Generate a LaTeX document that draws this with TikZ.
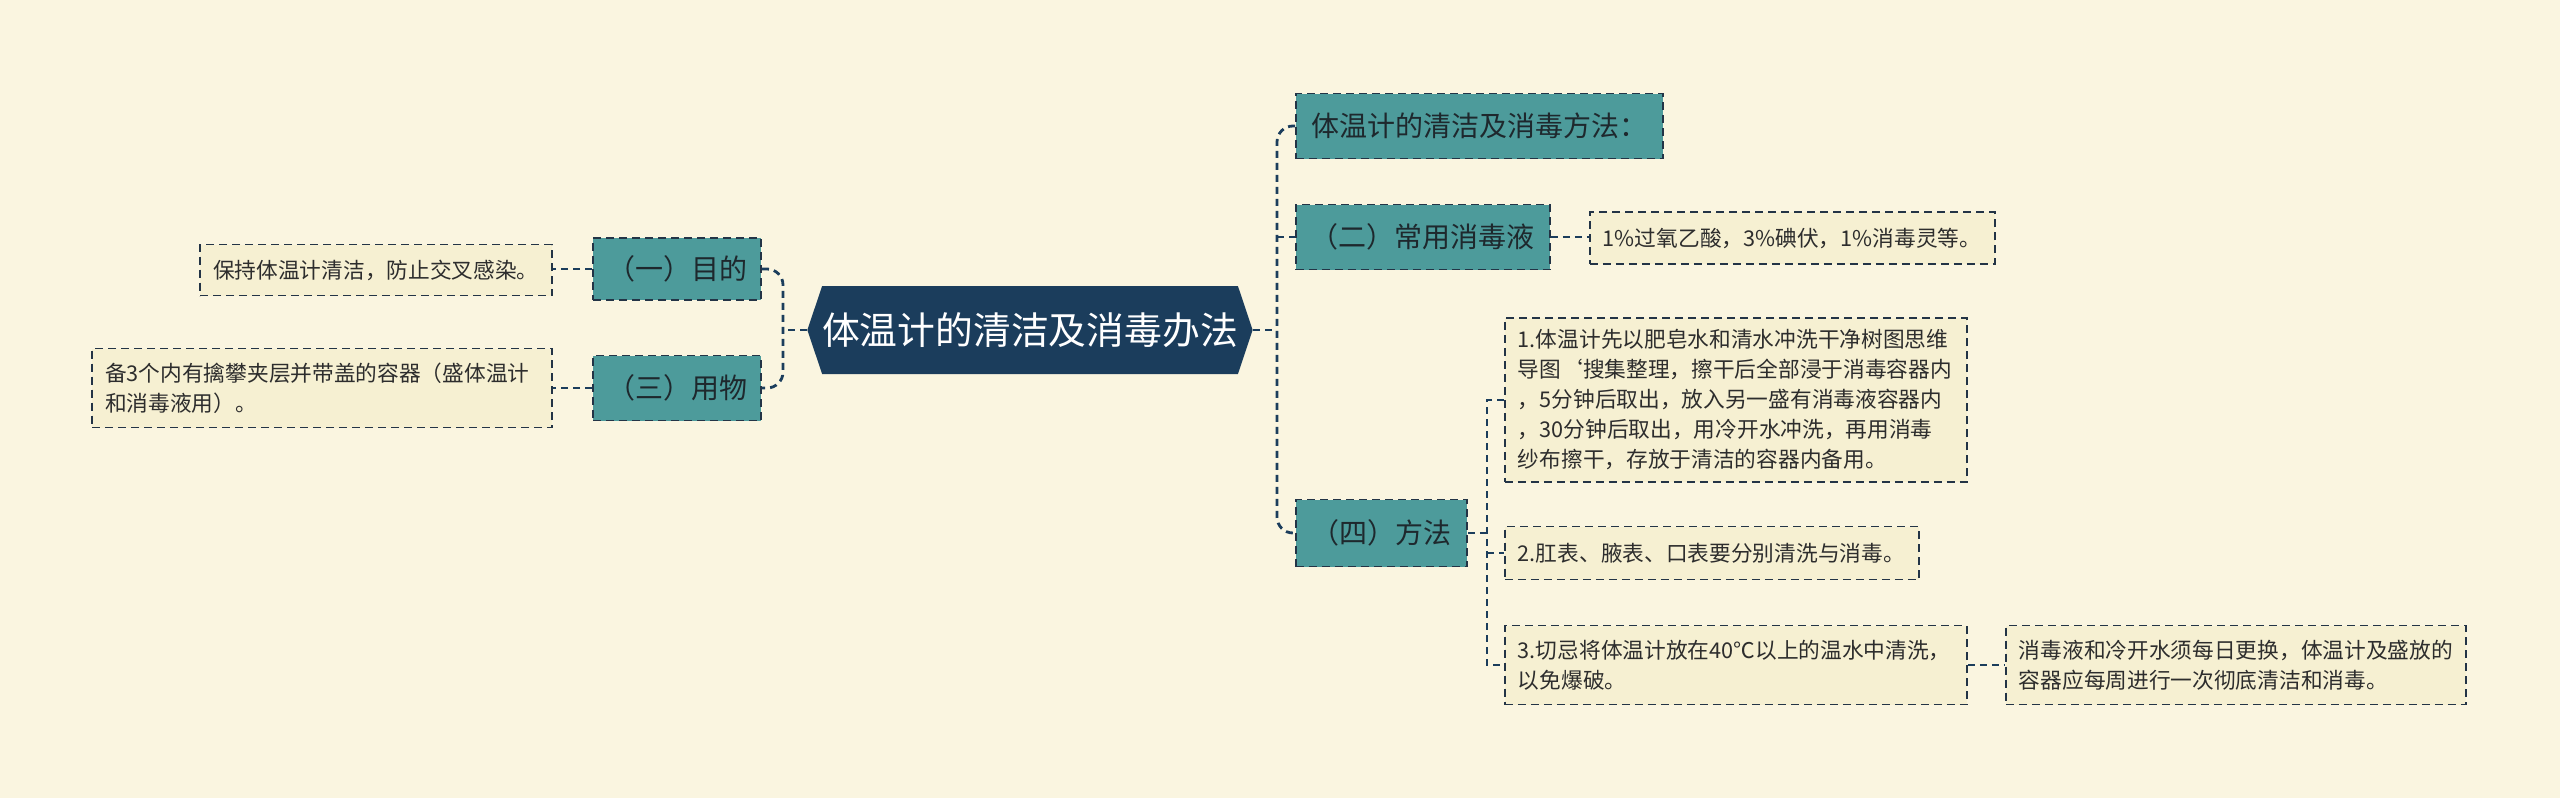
\documentclass[tikz,border=0pt]{standalone}
\usepackage{fontspec}
\setmainfont{Noto Sans CJK SC}
\usetikzlibrary{shapes.symbols}
\definecolor{bgc}{RGB}{250,245,224}
\definecolor{navy}{RGB}{27,61,92}
\definecolor{tealc}{RGB}{77,155,155}
\definecolor{edgec}{RGB}{35,52,70}
\definecolor{leaffill}{RGB}{246,240,210}
\definecolor{tealtext}{RGB}{30,40,45}
\definecolor{leaftext}{RGB}{45,45,45}
\tikzset{
  conn/.style={draw=navy, line width=1.4pt, dash pattern=on 3.5pt off 2.5pt},
  rootbox/.style={signal, signal to=east and west, signal pointer angle=143, fill=navy, text=white,
    minimum width=214pt, minimum height=44pt, inner sep=0pt, font=\fontsize{18.9}{22}\selectfont},
  topic/.style={draw=edgec, line width=0.9pt, dash pattern=on 4pt off 2.5pt, fill=tealc, text=tealtext,
    font=\fontsize{14}{17}\selectfont, minimum height=32.5pt, inner sep=0pt},
  leaf/.style={draw=edgec, line width=0.9pt, dash pattern=on 4pt off 2.5pt, fill=leaffill, text=leaftext,
    font=\fontsize{10.85}{15}\selectfont, align=left, inner xsep=6.5pt, inner ysep=0pt},
}
\begin{document}
\begin{tikzpicture}[x=0.5pt,y=-0.5pt]
\fill[bgc] (0,0) rectangle (2560,798);
\useasboundingbox (0,0) rectangle (2560,798);

\node[rootbox] (c) at (1030,330) {体温计的清洁及消毒办法};

\node[topic, anchor=west, minimum width=183.5pt] (t1) at (1295,126) {体温计的清洁及消毒方法：};
\node[topic, anchor=west, minimum width=127pt] (t2) at (1295,237) {（二）常用消毒液};
\node[topic, anchor=west, minimum width=85.5pt, minimum height=33.5pt] (t4) at (1295,533) {（四）方法};
\node[topic, anchor=east, minimum width=84pt, minimum height=31pt] (l1) at (762,269) {（一）目的};
\node[topic, anchor=east, minimum width=84pt] (l3) at (762,388) {（三）用物};

\node[leaf, anchor=west, text width=189.5pt, minimum height=26pt] (d2a) at (1589,238) {1\%过氧乙酸，3\%碘伏，1\%消毒灵等。};
\node[leaf, anchor=west, text width=218pt, minimum height=82pt] (d4a) at (1504,400)
  {1.体温计先以肥皂水和清水冲洗干净树图思维\\导图`搜集整理，擦干后全部浸于消毒容器内\\，5分钟后取出，放入另一盛有消毒液容器内\\，30分钟后取出，用冷开水冲洗，再用消毒\\纱布擦干，存放于清洁的容器内备用。};
\node[leaf, anchor=west, text width=194pt, minimum height=26.5pt] (d4b) at (1504,553) {2.肛表、腋表、口表要分别清洗与消毒。};
\node[leaf, anchor=west, text width=218pt, minimum height=39.5pt] (d4c) at (1504,665)
  {3.切忌将体温计放在40℃以上的温水中清洗，\\以免爆破。};
\node[leaf, anchor=west, text width=217pt, minimum height=39.5pt] (d4c1) at (2005,665)
  {消毒液和冷开水须每日更换，体温计及盛放的\\容器应每周进行一次彻底清洁和消毒。};
\node[leaf, anchor=east, text width=163pt, minimum height=25.5pt] (dl1) at (553,270) {保持体温计清洁，防止交叉感染。};
\node[leaf, anchor=east, text width=217pt, minimum height=39.5pt] (dl3) at (553,388)
  {备3个内有擒攀夹层并带盖的容器（盛体温计\\和消毒液用）。};

% right trunk
\coordinate (rj) at (1277,330);
\draw[conn] (c.east) -- (rj);
\draw[conn, rounded corners=8pt] (t1.west) -- (rj |- t1.west) -- (rj |- t4.west) -- (t4.west);
\draw[conn] (rj |- t2.west) -- (t2.west);
% left trunk
\coordinate (lj) at (783,330);
\draw[conn] (c.west) -- (lj);
\draw[conn, rounded corners=8pt] (l1.east) -- (lj |- l1.east) -- (lj |- l3.east) -- (l3.east);
% details
\draw[conn] (t2.east) -- (t2.east -| d2a.west);
\coordinate (fj) at (1487,533);
\draw[conn] (t4.east) -- (fj);
\draw[conn] (d4a.west) -- (fj |- d4a.west) -- (fj |- d4c.west) -- (d4c.west);
\draw[conn] (fj |- d4b.west) -- (d4b.west);
\draw[conn] (d4c.east) -- (d4c1.west);
\draw[conn] (l1.west) -- (l1.west -| dl1.east);
\draw[conn] (l3.west) -- (dl3.east);
\end{tikzpicture}
\end{document}
